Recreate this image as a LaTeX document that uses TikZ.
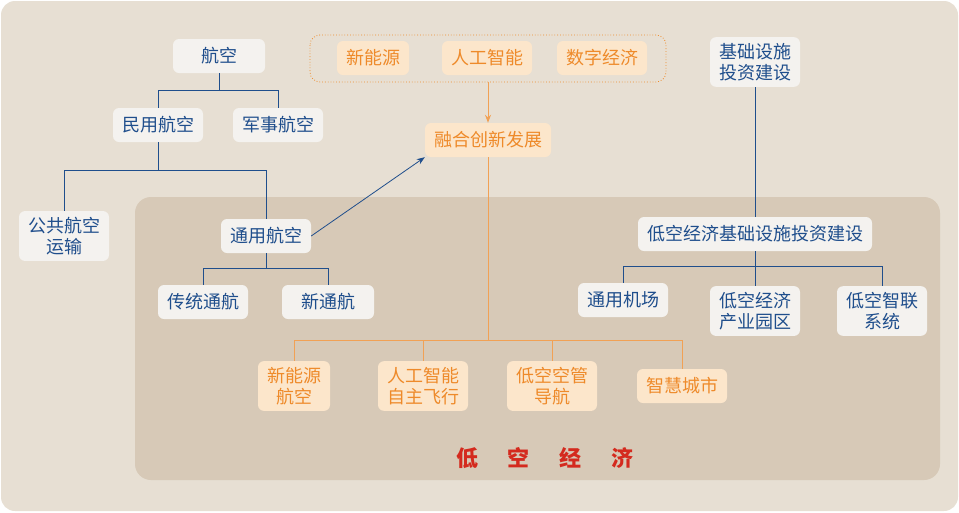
\documentclass[tikz,border=0pt]{standalone}
\usepackage{fontspec}
\setmainfont{Noto Sans CJK SC}
\usetikzlibrary{arrows.meta}
\definecolor{bgout}{HTML}{E7DFD3}
\definecolor{bgin}{HTML}{D7C9B7}
\definecolor{nfill}{HTML}{F4F2EF}
\definecolor{ntext}{HTML}{1F4E8C}
\definecolor{ofill}{HTML}{FCE6CB}
\definecolor{otext}{HTML}{EE8A2A}
\definecolor{rtext}{HTML}{D42A1E}
\begin{document}
\begin{tikzpicture}[x=1pt,y=-1pt,
 bn/.style={fill=nfill,rounded corners=6pt,text=ntext,font=\fontsize{18}{20}\selectfont,inner xsep=9pt,inner ysep=6pt,minimum height=34pt,align=center},
 on/.style={fill=ofill,rounded corners=6pt,text=otext,font=\fontsize{18}{20}\selectfont,inner xsep=9pt,inner ysep=6pt,minimum height=34pt,align=center},
 bl/.style={draw=ntext,line width=0.8pt},
 ol/.style={draw=otext!80,line width=0.6pt}]
\useasboundingbox (0,0) rectangle (959,512);
\fill[bgout,rounded corners=14pt] (1,1) rectangle (958,511);
\fill[bgin,rounded corners=16pt] (135,197) rectangle (940,480);
\node[bn,minimum width=92pt] (hk) at (219,56) {航空};
\node[bn] (my) at (158,125) {民用航空};
\node[bn] (js) at (278,125) {军事航空};
\node[bn] (gg) at (64,236) {公共航空\\[1pt]运输};
\node[bn] (ty) at (266,236) {通用航空};
\node[bn] (ct) at (203,302) {传统通航};
\node[bn,minimum width=92pt] (xt) at (328,302) {新通航};
\draw[otext,dotted,line width=0.8pt,rounded corners=10pt] (310,35) rectangle (666,82);
\coordinate (box) at (488,82);
\node[on] (x1) at (373,58) {新能源};
\node[on] (x2) at (487,58) {人工智能};
\node[on] (x3) at (602,58) {数字经济};
\node[on] (rh) at (488,140) {融合创新发展};
\node[bn] (jc) at (755,62) {基础设施\\[1pt]投资建设};
\node[bn] (dj) at (755,234) {低空经济基础设施投资建设};
\node[bn] (jc1) at (623,300) {通用机场};
\node[bn] (cy) at (755,311) {低空经济\\[1pt]产业园区};
\node[bn] (zl) at (882,311) {低空智联\\[1pt]系统};
\node[on] (b1) at (294,386) {新能源\\[1pt]航空};
\node[on] (b2) at (423,386) {人工智能\\[1pt]自主飞行};
\node[on] (b3) at (552,386) {低空空管\\[1pt]导航};
\node[on] (b4) at (682,386) {智慧城市};
\node[text=rtext,font=\bfseries\fontsize{22}{24}\selectfont] (lk) at (545,458) {低\hspace{30pt}空\hspace{30pt}经\hspace{30pt}济};
\draw[bl] (hk.south) -- (219,90) (158,90) -- (278,90) (my.north) -- (158,90) (js.north) -- (278,90);
\draw[bl] (my.south) -- (158,170) (64,170) -- (266,170) (gg.north) -- (64,170) (ty.north) -- (266,170);
\draw[bl] (ty.south) -- (266,268) (203,268) -- (328,268) (ct.north) -- (203,268) (xt.north) -- (328,268);
\draw[bl,-{Stealth[length=8pt]}] (ty.east) -- (rh.south west);
\draw[ol,line width=0.9pt,-{Stealth[length=8pt]}] (box) -- (rh.north);
\draw[ol] (rh.south) -- (488,340) (294,340) -- (682,340);
\foreach \b/\x in {b1/294,b2/423,b3/552,b4/682} \draw[ol] (\b.north) -- (\x,340);
\draw[bl] (jc.south) -- (dj.north);
\draw[bl] (dj.south) -- (755,266) (623,266) -- (882,266) (jc1.north) -- (623,266) (cy.north) -- (755,266) (zl.north) -- (882,266);
\end{tikzpicture}
\end{document}
